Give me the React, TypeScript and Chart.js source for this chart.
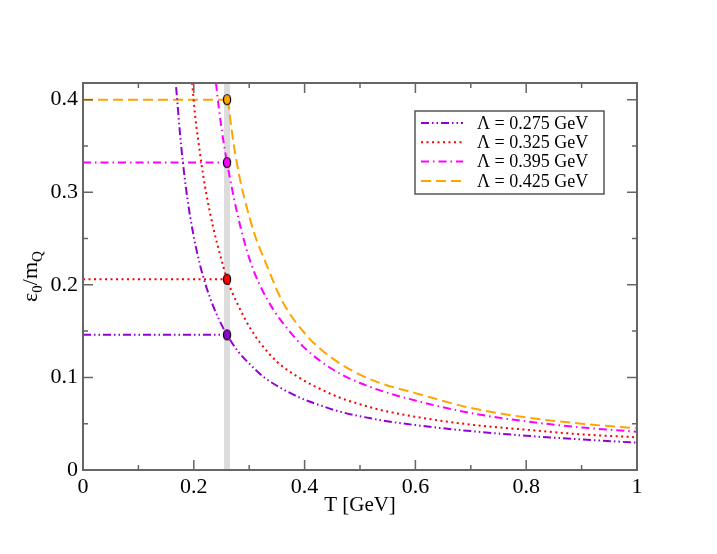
import React, { useEffect, useRef } from 'react';
import { Chart, registerables } from 'chart.js';

Chart.register(...registerables);

// axis ranges and ticks
const T_MIN = 0;
const T_MAX = 1;
const Y_MIN = 0;
const Y_MAX = 0.418;
const xTicks = [0, 0.2, 0.4, 0.6, 0.8, 1];
const xMinor = [0.1, 0.3, 0.5, 0.7, 0.9];
const yTicks = [0, 0.1, 0.2, 0.3, 0.4];
const yMinor = [0.05, 0.15, 0.25, 0.35];

// temperature where the vertical band and markers sit
const T_MARK = 0.26;

const labels = ['Λ = 0.275 GeV', 'Λ = 0.325 GeV', 'Λ = 0.395 GeV', 'Λ = 0.425 GeV'];
const colors = ['#9400d3', '#ff0000', '#ff00ff', '#ffa500'];
const dashes = [
  [8, 3, 1.5, 3, 1.5, 3],
  [2, 3.5],
  [8, 4, 1.5, 4],
  [10, 5],
];
const markLevels = [0.146, 0.206, 0.332, 0.4];

// Λ = 0.275
const t275 = [0.165, 0.17, 0.175, 0.18, 0.188, 0.199, 0.211, 0.223, 0.235, 0.25, 0.26, 0.28, 0.3, 0.325, 0.35, 0.392, 0.43, 0.464, 0.536, 0.6, 0.7, 0.8, 0.9, 1.0];
const y275 = [0.435, 0.4, 0.364, 0.334, 0.295, 0.255, 0.222, 0.197, 0.177, 0.157, 0.146, 0.128, 0.115, 0.101, 0.091, 0.078, 0.0695, 0.063, 0.054, 0.0485, 0.042, 0.037, 0.033, 0.0295];

// Λ = 0.325
const t325 = [0.197, 0.202, 0.208, 0.217, 0.223, 0.235, 0.25, 0.26, 0.28, 0.3, 0.319, 0.35, 0.395, 0.43, 0.464, 0.5, 0.536, 0.6, 0.7, 0.8, 0.9, 1.0];
const y325 = [0.418, 0.385, 0.356, 0.318, 0.297, 0.262, 0.227, 0.206, 0.178, 0.155, 0.138, 0.117, 0.098, 0.087, 0.078, 0.071, 0.065, 0.0575, 0.049, 0.0435, 0.0385, 0.0353];

// Λ = 0.395
const t395 = [0.24, 0.245, 0.251, 0.26, 0.265, 0.28, 0.301, 0.319, 0.345, 0.374, 0.398, 0.43, 0.464, 0.5, 0.536, 0.6, 0.7, 0.8, 0.9, 1.0];
const y395 = [0.418, 0.392, 0.365, 0.332, 0.316, 0.273, 0.227, 0.2, 0.172, 0.149, 0.133, 0.117, 0.104, 0.094, 0.086, 0.075, 0.0615, 0.0525, 0.046, 0.0413];

// Λ = 0.425
const t425 = [0.262, 0.265, 0.272, 0.283, 0.292, 0.31, 0.329, 0.36, 0.404, 0.43, 0.464, 0.5, 0.536, 0.6, 0.7, 0.8, 0.9, 1.0];
const y425 = [0.4, 0.383, 0.352, 0.315, 0.292, 0.254, 0.225, 0.182, 0.145, 0.13, 0.115, 0.103, 0.094, 0.083, 0.067, 0.0568, 0.05, 0.045];

const curveT = [t275, t325, t395, t425];
const curveY = [y275, y325, y395, y425];

const SERIF = '"Liberation Serif", "DejaVu Serif", serif';
const FRAME = '#666666';

const ellipseMarker = (fill: string) => {
  const c = document.createElement('canvas');
  c.width = 10;
  c.height = 13;
  const g = c.getContext('2d');
  if (g) {
    g.beginPath();
    g.ellipse(5, 6.5, 3.6, 5, 0, 0, Math.PI * 2);
    g.fillStyle = fill;
    g.fill();
    g.lineWidth = 1.2;
    g.strokeStyle = '#000';
    g.stroke();
  }
  return c;
};

// frame, inward ticks, axis titles and the boxed legend
const decorations = {
  id: 'decorations',
  afterDraw(chart: any) {
    const { ctx, chartArea: a, scales } = chart;
    const xs = scales.x;
    const ys = scales.y;
    ctx.save();

    ctx.strokeStyle = FRAME;
    ctx.lineWidth = 2;
    ctx.setLineDash([]);
    ctx.strokeRect(a.left, a.top, a.right - a.left, a.bottom - a.top);

    ctx.lineWidth = 1.5;
    ctx.beginPath();
    const xTick = (v: number, len: number) => {
      const px = xs.getPixelForValue(v);
      ctx.moveTo(px, a.bottom);
      ctx.lineTo(px, a.bottom - len);
      ctx.moveTo(px, a.top);
      ctx.lineTo(px, a.top + len);
    };
    const yTick = (v: number, len: number) => {
      const py = ys.getPixelForValue(v);
      ctx.moveTo(a.left, py);
      ctx.lineTo(a.left + len, py);
      ctx.moveTo(a.right, py);
      ctx.lineTo(a.right - len, py);
    };
    xTicks.slice(1, -1).forEach((v) => xTick(v, 10));
    xMinor.forEach((v) => xTick(v, 5));
    yTicks.slice(1).forEach((v) => yTick(v, 10));
    yMinor.forEach((v) => yTick(v, 5));
    ctx.stroke();

    // axis titles
    ctx.fillStyle = '#000';
    ctx.font = `21px ${SERIF}`;
    ctx.textAlign = 'center';
    ctx.textBaseline = 'alphabetic';
    ctx.fillText('T [GeV]', (a.left + a.right) / 2, 511);

    const parts: [string, boolean][] = [
      ['ε', false],
      ['0', true],
      ['/m', false],
      ['Q', true],
    ];
    const big = `22px ${SERIF}`;
    const small = `15px ${SERIF}`;
    let total = 0;
    parts.forEach(([s, sub]) => {
      ctx.font = sub ? small : big;
      total += ctx.measureText(s).width;
    });
    ctx.translate(37, (a.top + a.bottom) / 2);
    ctx.rotate(-Math.PI / 2);
    ctx.textAlign = 'left';
    let cx = -total / 2;
    parts.forEach(([s, sub]) => {
      ctx.font = sub ? small : big;
      ctx.fillText(s, cx, sub ? 5 : 0);
      cx += ctx.measureText(s).width;
    });
    ctx.restore();

    // legend box
    ctx.save();
    const bx = a.right - 222;
    const by = a.top + 28;
    const bw = 189;
    const bh = 83;
    ctx.fillStyle = '#fff';
    ctx.fillRect(bx, by, bw, bh);
    ctx.strokeStyle = '#555';
    ctx.lineWidth = 1.5;
    ctx.strokeRect(bx, by, bw, bh);
    labels.forEach((label, i) => {
      const ry = by + 12 + i * 19.3;
      ctx.strokeStyle = colors[i];
      ctx.lineWidth = 2;
      ctx.setLineDash(dashes[i]);
      ctx.beginPath();
      ctx.moveTo(bx + 6, ry);
      ctx.lineTo(bx + 48, ry);
      ctx.stroke();
      ctx.setLineDash([]);
      ctx.fillStyle = '#000';
      ctx.font = `18px ${SERIF}`;
      ctx.textAlign = 'left';
      ctx.textBaseline = 'middle';
      ctx.fillText(label, bx + 62, ry + 1);
    });
    ctx.restore();
  },
};

const App: React.FC = () => {
  const chartRef = useRef<HTMLCanvasElement>(null);
  const chartInstance = useRef<Chart | null>(null);

  useEffect(() => {
    document.body.style.margin = '0';
    if (!chartRef.current) return;
    const ctx = chartRef.current.getContext('2d');
    if (!ctx) return;

    if (chartInstance.current) {
      chartInstance.current.destroy();
    }

    const band = {
      data: [
        { x: T_MARK, y: Y_MIN },
        { x: T_MARK, y: Y_MAX },
      ],
      borderColor: '#dcdcdc',
      borderWidth: 6,
      pointRadius: 0,
      order: 10,
    };

    const curves = curveT.map((ts, i) => ({
      data: ts.map((t, j) => ({ x: t, y: curveY[i][j] })),
      borderColor: colors[i],
      borderWidth: 2,
      borderDash: dashes[i],
      pointRadius: 0,
      cubicInterpolationMode: 'monotone' as const,
      order: 5,
    }));

    const levels = markLevels.map((lvl, i) => ({
      data: [
        { x: T_MIN, y: lvl },
        { x: T_MARK, y: lvl },
      ],
      borderColor: colors[i],
      borderWidth: 2,
      borderDash: dashes[i],
      pointRadius: 0,
      order: 5,
    }));

    const markers = markLevels.map((lvl, i) => ({
      data: [{ x: T_MARK, y: lvl }],
      showLine: false,
      pointStyle: ellipseMarker(colors[i]),
      pointRadius: 5,
      order: 0,
    }));

    chartInstance.current = new Chart(ctx, {
      type: 'line',
      data: { datasets: [band, ...curves, ...levels, ...markers] as any },
      options: {
        responsive: true,
        maintainAspectRatio: false,
        animation: false,
        layout: { padding: { left: 0, top: 83, right: 80, bottom: 0 } },
        plugins: {
          legend: { display: false },
          tooltip: { enabled: false },
        },
        scales: {
          x: {
            type: 'linear',
            min: T_MIN,
            max: T_MAX,
            afterBuildTicks: (s: any) => {
              s.ticks = xTicks.map((v) => ({ value: v }));
            },
            afterFit: (s: any) => {
              s.height = 84;
            },
            grid: { display: false, drawTicks: false },
            border: { display: false },
            ticks: {
              padding: 4,
              color: '#000',
              font: { family: SERIF, size: 22 },
              maxRotation: 0,
              callback: (v: any) => String(v),
            },
          },
          y: {
            type: 'linear',
            min: Y_MIN,
            max: Y_MAX,
            afterBuildTicks: (s: any) => {
              s.ticks = yTicks.map((v) => ({ value: v }));
            },
            afterFit: (s: any) => {
              s.width = 83;
            },
            grid: { display: false, drawTicks: false },
            border: { display: false },
            ticks: {
              padding: 5,
              color: '#000',
              font: { family: SERIF, size: 22 },
              callback: (v: any) => String(v),
            },
          },
        },
      },
      plugins: [decorations],
    });

    return () => {
      if (chartInstance.current) {
        chartInstance.current.destroy();
        chartInstance.current = null;
      }
    };
  }, []);

  return (
    <div style={{ width: 717, height: 554, position: 'relative', background: '#fff' }}>
      <canvas ref={chartRef} />
    </div>
  );
};

export default App;
